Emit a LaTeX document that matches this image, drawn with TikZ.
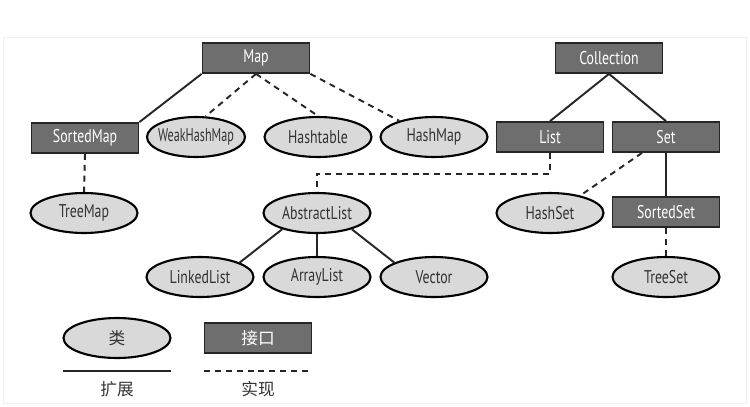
\documentclass[tikz,border=0pt]{standalone}
\usepackage{fontspec}
\setmainfont[FakeStretch=0.75]{PT Sans}
\newfontfamily\cjk{Noto Sans CJK SC}
\usepackage{xcolor}
\usetikzlibrary{shapes.geometric}
\definecolor{ifacegray}{HTML}{6E6E6E}
\definecolor{classgray}{HTML}{D9D9D9}

\begin{document}
\begin{tikzpicture}[x=0.02cm,y=-0.02cm,
  iface/.style={draw=black!85,line width=1pt,fill=ifacegray,text=white,
    minimum width=2.14cm,minimum height=0.6cm,inner sep=0pt,
    font=\fontsize{10.5}{12}\selectfont},
  cls/.style={ellipse,draw=black,line width=1.2pt,fill=classgray,text=black!80,
    minimum width=2.14cm,minimum height=0.8cm,inner sep=0pt,
    font=\fontsize{10.5}{12}\selectfont},
  ext/.style={line width=1.1pt,black!85},
  impl/.style={ext,dash pattern=on 3.4pt off 2.8pt}]
\useasboundingbox (0,0) rectangle (750,406);
\draw[gray!12] (3,37) rectangle (746,403);

\node[iface] (Map) at (256,58) {Map};
\node[iface] (SortedMap) at (85,138) {SortedMap};
\node[cls,minimum width=1.96cm,inner xsep=-20pt,
  font={\fontsize{10.5}{12}\selectfont\addfontfeature{FakeStretch=0.66}}] (WeakHashMap) at (196,137) {WeakHashMap};
\node[cls] (Hashtable) at (318,137) {Hashtable};
\node[cls] (HashMap) at (434,137) {HashMap};
\node[cls] (TreeMap) at (84,213) {TreeMap};

\node[iface] (Collection) at (609,58) {Collection};
\node[iface] (List) at (550,137) {List};
\node[iface] (Set) at (666,137) {Set};
\node[cls] (AbstractList) at (317,213) {AbstractList};
\node[cls] (HashSet) at (550,213) {HashSet};
\node[iface] (SortedSet) at (666,212) {SortedSet};
\node[cls] (LinkedList) at (200,277) {LinkedList};
\node[cls] (ArrayList) at (317,277) {ArrayList};
\node[cls] (Vector) at (434,277) {Vector};
\node[cls] (TreeSet) at (666,277) {TreeSet};

\draw[ext] (Map.south west) -- (SortedMap.north east);
\draw[impl] (Map.south) -- (WeakHashMap.65);
\draw[impl] (Map.south) -- (Hashtable.north);
\draw[impl] (Map.south east) -- (HashMap.155);
\draw[impl] (SortedMap.south) -- (TreeMap.north);
\draw[ext] (Collection.south) -- (List.north);
\draw[ext] (Collection.south) -- (Set.north);
\draw[impl] (List.south) -- ++(0,21) -| (AbstractList.north);
\draw[impl] ([xshift=-0.48cm]Set.south) -- (HashSet.30);
\draw[ext] (Set.south) -- (SortedSet.north);
\draw[impl] (SortedSet.south) -- (TreeSet.north);
\draw[ext] (AbstractList.205) -- (LinkedList.20);
\draw[ext] (AbstractList.south) -- (ArrayList.north);
\draw[ext] (AbstractList.-25) -- (Vector.160);

\node[cls,font=\cjk\fontsize{9.5}{11}\selectfont] (keycls) at (117,338) {类};
\node[iface,font=\cjk\fontsize{9.5}{11}\selectfont] (keyiface) at (258,338) {接口};
\coordinate (extL) at (63,371);
\coordinate (extR) at (171,371);
\coordinate (implL) at (204,371);
\coordinate (implR) at (311,371);
\draw[ext] (extL) -- (extR);
\draw[impl] (implL) -- (implR);
\node[font=\cjk\fontsize{9.5}{11}\selectfont,text=black!80] (extlabel) at (117,389) {扩展};
\node[font=\cjk\fontsize{9.5}{11}\selectfont,text=black!80] (impllabel) at (258,389) {实现};
\end{tikzpicture}
\end{document}
